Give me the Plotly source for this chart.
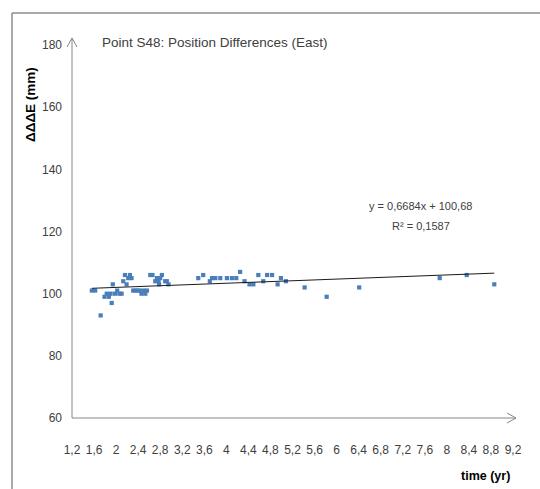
import plotly.graph_objects as go

# Observation epochs (years) and East position differences (mm)
time_yr = [1.56, 1.62, 1.72, 1.79, 1.83, 1.87, 1.90, 1.92, 1.94, 1.98,
           2.02, 2.06, 2.10, 2.13, 2.16, 2.19, 2.22, 2.25, 2.28, 2.31,
           2.35, 2.39, 2.43, 2.46, 2.50, 2.53, 2.56, 2.62, 2.66, 2.71,
           2.74, 2.77, 2.78, 2.80, 2.83, 2.89, 2.92, 2.95, 3.49, 3.58,
           3.70, 3.74, 3.80, 3.89, 4.01, 4.10, 4.18, 4.25, 4.33, 4.42,
           4.49, 4.58, 4.67, 4.74, 4.83, 4.93, 4.99, 5.08, 5.42, 5.82,
           6.41, 7.87, 8.36, 8.86]
diff_east = [101, 101, 93, 99, 100, 99, 100, 97, 103, 100,
             101, 100, 100, 104, 106, 103, 105, 106, 105, 101,
             101, 101, 101, 100, 101, 100, 101, 106, 106, 104,
             105, 104, 103, 105, 106, 104, 104, 103, 105, 106,
             104, 105, 105, 105, 105, 105, 105, 107, 104, 103,
             103, 106, 104, 106, 106, 103, 105, 104, 102, 99,
             102, 105, 106, 103]

# Linear trend reported for the series
slope = 0.6684
intercept = 100.68
r_squared = 0.1587

# Axis ticks
x_ticks = [1.2, 1.6, 2.0, 2.4, 2.8, 3.2, 3.6, 4.0, 4.4, 4.8, 5.2,
           5.6, 6.0, 6.4, 6.8, 7.2, 7.6, 8.0, 8.4, 8.8, 9.2]
y_ticks = [60, 80, 100, 120, 140, 160, 180]


def fmt(v, nd=None):
    s = f"{v:.{nd}f}" if nd is not None else f"{v:g}"
    return s.replace(".", ",")


x_tick_text = [fmt(round(v, 1)) for v in x_ticks]

W, H = 540, 489
L, R, T, B = 72, 27, 45, 71
PW, PH = W - L - R, H - T - B


def px(x):
    return (x - L) / PW


def py(y):
    return (H - B - y) / PH


FONT = "Liberation Sans Narrow, Arial Narrow, Liberation Sans, sans-serif"
AX = "#868686"
TXT = "#404040"

trend_x = [min(time_yr), max(time_yr)]
trend_y = [slope * v + intercept for v in trend_x]

fig = go.Figure()
fig.add_trace(go.Scatter(
    x=time_yr, y=diff_east, mode="markers",
    marker=dict(symbol="square", size=4.2, color="#4a7ebb"),
    showlegend=False, hoverinfo="x+y"))
fig.add_trace(go.Scatter(
    x=trend_x, y=trend_y, mode="lines",
    line=dict(color="#1a1a1a", width=1),
    showlegend=False, hoverinfo="skip"))

shapes = [
    # outer chart frame (left and top edges)
    dict(type="line", xref="paper", yref="paper",
         x0=px(12), y0=py(489), x1=px(12), y1=py(13),
         line=dict(color="#8c8c8c", width=1.5)),
    dict(type="line", xref="paper", yref="paper",
         x0=px(12), y0=py(13), x1=px(540), y1=py(13),
         line=dict(color="#8c8c8c", width=1.5)),
    # vertical axis with arrow head
    dict(type="line", xref="paper", yref="paper",
         x0=px(72), y0=py(418), x1=px(72), y1=py(38),
         line=dict(color=AX, width=1)),
    dict(type="path", xref="paper", yref="paper",
         path=f"M {px(67)},{py(47)} L {px(72)},{py(38)} L {px(77)},{py(47)}",
         line=dict(color=AX, width=1)),
    # horizontal axis with arrow head
    dict(type="line", xref="paper", yref="paper",
         x0=px(72), y0=py(418), x1=px(516), y1=py(418),
         line=dict(color=AX, width=1)),
    dict(type="path", xref="paper", yref="paper",
         path=f"M {px(507)},{py(413)} L {px(516)},{py(418)} L {px(507)},{py(423)}",
         line=dict(color=AX, width=1)),
]

annotations = [
    dict(text="Point S48: Position Differences (East)", xref="paper", yref="paper",
         x=px(100), y=py(42), xanchor="left", yanchor="middle", showarrow=False,
         font=dict(family=FONT, size=13.5, color=TXT)),
    dict(text="<b>ΔΔΔE (mm)</b>", xref="paper", yref="paper",
         x=px(30), y=py(105), xanchor="center", yanchor="middle", textangle=-90,
         showarrow=False, font=dict(family=FONT, size=13.5, color="#000000")),
    dict(text="<b>time (yr)</b>", xref="paper", yref="paper",
         x=px(485), y=py(476), xanchor="center", yanchor="middle", showarrow=False,
         font=dict(family=FONT, size=12.5, color="#000000")),
    dict(text=f"y = {fmt(slope, 4)}x + {fmt(intercept, 2)}", xref="paper", yref="paper",
         x=px(420), y=py(206), xanchor="center", yanchor="middle", showarrow=False,
         font=dict(family=FONT, size=11, color=TXT)),
    dict(text=f"R² = {fmt(r_squared, 4)}", xref="paper", yref="paper",
         x=px(421), y=py(226), xanchor="center", yanchor="middle", showarrow=False,
         font=dict(family=FONT, size=11, color=TXT)),
]

fig.update_layout(
    width=W, height=H,
    margin=dict(l=L, r=R, t=T, b=B),
    paper_bgcolor="white", plot_bgcolor="white",
    font=dict(family=FONT, size=12, color=TXT),
    shapes=shapes, annotations=annotations,
    xaxis=dict(range=[1.2, 9.2], tickvals=x_ticks, ticktext=x_tick_text,
               showgrid=False, zeroline=False, showline=False, ticks="",
               ticklabelstandoff=23, tickfont=dict(family=FONT, size=12, color=TXT)),
    yaxis=dict(range=[60, 180], tickvals=y_ticks,
               showgrid=False, zeroline=False, showline=False, ticks="",
               ticklabelstandoff=9, tickfont=dict(family=FONT, size=12, color=TXT)),
)

fig.write_html("out.html")
